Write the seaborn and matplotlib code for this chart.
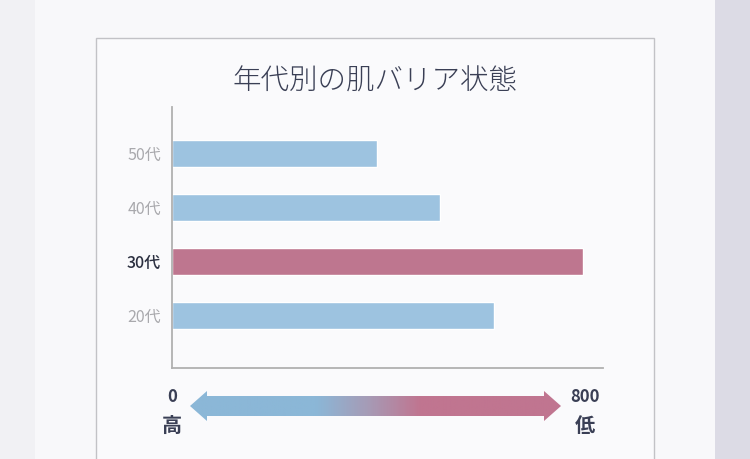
import matplotlib
matplotlib.use("Agg")
import matplotlib.pyplot as plt
import matplotlib.transforms as mtransforms
from matplotlib.patches import Rectangle, Polygon
from matplotlib.colors import LinearSegmentedColormap
import numpy as np
import seaborn as sns

# ---- data ----
ages = ["50代", "40代", "30代", "20代"]
values = [397, 519, 796, 624]
highlight = "30代"
scale_ticks = [0, 800]
scale_words = ["高", "低"]
title = "年代別の肌バリア状態"

BLUE = "#9dc3e0"
PINK = "#be768f"
NAVY = "#3a3f55"

sns.set_theme(style="white")
plt.rcParams["font.family"] = ["Noto Sans CJK JP", "DejaVu Sans"]

fig = plt.figure(figsize=(7.5, 4.59), dpi=100)

# background layer in pixel coordinates
bg = fig.add_axes([0, 0, 1, 1], zorder=0)
bg.set_xlim(0, 750)
bg.set_ylim(459, 0)
bg.axis("off")
bg.add_patch(Rectangle((0, 0), 750, 459, facecolor="#f1f1f4", edgecolor="none"))
bg.add_patch(Rectangle((35, 0), 680, 459, facecolor="#f8f8fa", edgecolor="none"))
bg.add_patch(Rectangle((715, 0), 35, 459, facecolor="#dcdbe5", edgecolor="none"))
bg.add_patch(Rectangle((96, 37.5), 558, 430, facecolor="#fafafc", edgecolor="#c2c2c6", lw=1))

# gradient double arrow
arrow = Polygon([(190, 406), (207, 391), (207, 396), (544, 396), (544, 391), (561, 406),
                 (544, 421), (544, 416), (207, 416), (207, 421)], closed=True,
                facecolor="none", edgecolor="none", transform=bg.transData)
bg.add_patch(arrow)
cmap = LinearSegmentedColormap.from_list(
    "g", [(0, "#8bb7d7"), (0.34, "#8bb7d7"), (0.48, "#a69bb6"), (0.62, "#c07590"), (1, "#c07590")])
grad = np.linspace(0, 1, 400).reshape(1, -1)
im = bg.imshow(grad, cmap=cmap, extent=(189, 562, 422, 390), aspect="auto", zorder=2)
im.set_clip_path(arrow)
bg.set_xlim(0, 750)
bg.set_ylim(459, 0)

fig.text(375 / 750, 1 - 81 / 459, title, ha="center", va="center", fontsize=20.5,
         color=NAVY, fontweight="light")

# main bar chart
ax = fig.add_axes([172 / 750, 91 / 459, 431 / 750, 261 / 459], zorder=1)
ax.patch.set_alpha(0)
palette = {a: (PINK if a == highlight else BLUE) for a in ages}
sns.barplot(x=values, y=ages, hue=ages, palette=palette, orient="h", width=0.5,
            saturation=1, legend=False, ax=ax)
ax.set_xlim(0, 835)
ax.set_ylim(3.97, -0.86)
for s in ["top", "right"]:
    ax.spines[s].set_visible(False)
for s in ["left", "bottom"]:
    ax.spines[s].set_color("#b0b0b0")
    ax.spines[s].set_linewidth(1.3)
ax.set_xticks([])
ax.set_xlabel("")
ax.set_ylabel("")
ax.tick_params(axis="y", length=0, pad=8, labelsize=11.5)
for lab in ax.get_yticklabels():
    if lab.get_text() == highlight:
        lab.set_color("#2b2f40")
        lab.set_fontweight("medium")
    else:
        lab.set_color("#a9a9ad")

# scale labels below the arrow, tied to the x scale
tr = mtransforms.blended_transform_factory(ax.transData, bg.transData)
for v, w in zip(scale_ticks, scale_words):
    ax.text(v, 397, f"{v}", transform=tr, ha="center", va="center", fontsize=12,
            fontweight="bold", color=NAVY)
    ax.text(v, 425, w, transform=tr, ha="center", va="center", fontsize=14.5,
            fontweight="bold", color=NAVY)

fig.savefig("out.png", dpi=100)
